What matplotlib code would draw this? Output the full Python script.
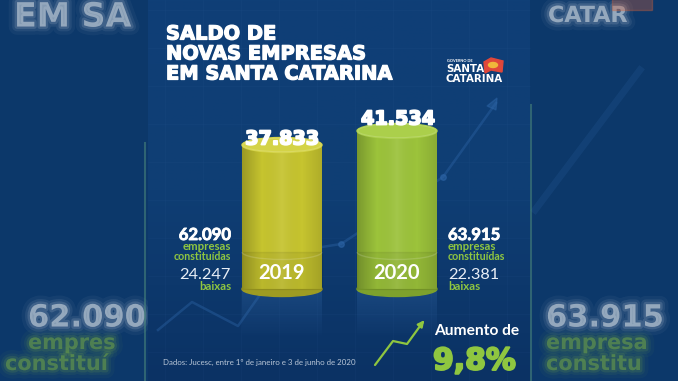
import numpy as np
import matplotlib
matplotlib.use("Agg")
import matplotlib.pyplot as plt
from matplotlib.patches import Ellipse, Rectangle, Arc, Polygon
from matplotlib.colors import LinearSegmentedColormap, to_rgb
import matplotlib.patheffects as pe

# ---------------- data ----------------
years = ["2019", "2020"]
saldo = [37833, 41534]
saldo_labels = ["37.833", "41.534"]
constituidas = ["62.090", "63.915"]
baixas = ["24.247", "22.381"]
aumento = "9,8%"
title_lines = ["SALDO DE", "NOVAS EMPRESAS", "EM SANTA CATARINA"]
fonte = "Dados: Jucesc, entre 1º de janeiro e 3 de junho de 2020"

# ---------------- style ----------------
W, H = 678, 381
BG = "#0d3a6b"
GREEN = "#8fc640"
BODY = ["#c6c42f", "#9cc33b"]
TOP = ["#d4d347", "#abcf4b"]
DARK = ["#9e9c22", "#7ea22c"]
FONT = "Lato"
HEAVY = "DejaVu Sans"

fig = plt.figure(figsize=(W / 100, H / 100), dpi=100)
fig.patch.set_facecolor(BG)

def pix_axes(z):
    a = fig.add_axes([0, 0, 1, 1], zorder=z)
    a.set_xlim(0, W)
    a.set_ylim(H, 0)
    a.axis("off")
    a.patch.set_alpha(0)
    return a

bg = pix_axes(0)
fg = pix_axes(2)

# outer background
bg.add_patch(Rectangle((0, 0), W, H, color="#0c386a", zorder=0))

# blurred outer copies
def blurry(x, y, s, size, color="white", alpha=0.22):
    t = bg.text(x, y, s, fontsize=size, color=color, ha="left", va="center",
                family=HEAVY, weight="bold", alpha=alpha, zorder=1)
    t.set_path_effects([pe.Stroke(linewidth=12, foreground=color, alpha=0.04),
                        pe.Stroke(linewidth=7, foreground=color, alpha=0.07),
                        pe.Stroke(linewidth=3.5, foreground=color, alpha=0.12),
                        pe.Normal()])

blurry(14, 17, "EM SA", 24, alpha=0.3)
blurry(28, 318, constituidas[0], 22, alpha=0.3)
blurry(28, 343, "empres", 15, color=GREEN)
blurry(5, 364, "constituí", 15, color=GREEN)
blurry(546, 318, constituidas[1], 22, alpha=0.3)
blurry(546, 343, "empresa", 15, color=GREEN)
blurry(546, 364, "constitu", 15, color=GREEN)
blurry(548, 16, "CATAR", 16, alpha=0.3)
bg.add_patch(Rectangle((612, -2), 40, 12, color="#d0603a", alpha=0.35, zorder=1))
bg.plot([535, 640], [210, 70], color="#2f65a6", lw=5, alpha=0.2, zorder=1)
# glowing panel edges
bg.plot([145, 145], [143, H], color="#4c8a7c", lw=1.5, alpha=0.55, zorder=1)
bg.plot([531, 531], [105, H], color="#4c8a7c", lw=1.5, alpha=0.55, zorder=1)

# central panel gradient
grad = np.linspace(0, 1, 256).reshape(-1, 1)
pcm = LinearSegmentedColormap.from_list("p", ["#0f3f77", "#0f3e74", "#0b3264"])
bg.imshow(grad, extent=(148, 530, H, 0), cmap=pcm, aspect="auto", zorder=2)
for gx in np.arange(165, 530, 38):
    bg.plot([gx, gx], [0, H], color="#3a6aa8", lw=0.5, alpha=0.1, zorder=2)
for gy in np.arange(10, H, 38):
    bg.plot([148, 530], [gy, gy], color="#3a6aa8", lw=0.5, alpha=0.1, zorder=2)

# background trend line
tx = [158, 192, 238, 290, 341, 443, 496]
ty = [330, 302, 326, 252, 244, 177, 103]
bg.plot(tx, ty, color="#2e66a8", lw=1.8, alpha=0.4, zorder=2)
bg.plot([341, 443], [244, 177], "o", color="#2e66a8", ms=4, alpha=0.55, zorder=2)
bg.add_patch(Polygon([[497, 98], [487, 106], [496, 110]], closed=True,
                     color="#2e66a8", alpha=0.45, zorder=2))

heavy_fx = [pe.Stroke(linewidth=0.9, foreground="white"), pe.Normal()]

# title
for i, line in enumerate(title_lines):
    t = fg.text(166, 34 + i * 20, line, fontsize=14, color="white", family=HEAVY,
                weight="bold", va="center", ha="left", zorder=5)
    t.set_path_effects(heavy_fx)

# logo
fg.text(447, 61, "GOVERNO DE", fontsize=2.8, color="white", family=FONT,
        weight="bold", va="center", zorder=5)
fg.text(446, 69.5, "SANTA", fontsize=7.4, color="white", family=HEAVY,
        weight="bold", va="center", zorder=5)
fg.text(446, 78.5, "CATARINA", fontsize=7.4, color="white", family=HEAVY,
        weight="bold", va="center", zorder=5)
fg.add_patch(Polygon([[484, 62], [491, 58], [503, 61], [502, 72], [491, 70], [485, 73]],
                     closed=True, color="#e0473a", zorder=4))
fg.add_patch(Ellipse((493, 65), 9, 5, color="#f0b73a", zorder=4))

# ---------------- bars (data axes) ----------------
s = 144 / 37833            # pixels per unit
base_px = 289              # baseline pixel (from top)
x0_px, step_px = 282, 115  # first bar centre, spacing
w = 80 / step_px
ax = fig.add_axes([0, 0, 1, 1], zorder=1)
ax.set_xlim(-x0_px / step_px, (W - x0_px) / step_px)
ax.set_ylim(-(H - base_px) / s, base_px / s)
ax.axis("off")
ax.patch.set_alpha(0)

eh = 15 / s
xs = np.arange(len(years))
bars = ax.bar(xs, saldo, width=w, color=BODY, zorder=3)
hgrad = np.linspace(0, 1, 256).reshape(1, -1)
for i, b in enumerate(bars):
    rg = np.linspace(0, 1, 100).reshape(-1, 1)
    rc = np.zeros((100, 1, 4))
    rc[..., :3] = to_rgb("#3a70b0")
    rc[..., 3] = 0.3 * (1 - rg)
    ax.imshow(rc, extent=(i - w / 2, i + w / 2, -50 / s, 0), aspect="auto",
              zorder=1, origin="upper")
    ax.add_patch(Ellipse((i, 0), w, eh, color=DARK[i], zorder=2))
    cm = LinearSegmentedColormap.from_list(
        "c%d" % i, [(0, 0, 0, 0.22), (0, 0, 0, 0.0), (1, 1, 1, 0.08), (0, 0, 0, 0.0), (0, 0, 0, 0.12)])
    im = ax.imshow(hgrad, extent=(i - w / 2, i + w / 2, 0, saldo[i]), cmap=cm,
                   aspect="auto", zorder=3.5)
    im.set_clip_path(b)
    band = (base_px - 252) / s
    ax.add_patch(Rectangle((i - w / 2, 0), w, band, color="black", alpha=0.06, zorder=3.6))
    ax.add_patch(Arc((i, band), w, eh, theta1=180, theta2=360, color="white",
                     alpha=0.15, lw=1, zorder=3.7))
    ax.add_patch(Ellipse((i, saldo[i]), w, eh, color=TOP[i], zorder=4))
    ax.add_patch(Ellipse((i, saldo[i]), w * 0.98, eh * 0.9, fill=False,
                         ec="white", alpha=0.15, lw=0.8, zorder=4))
    ax.text(i, (base_px - 273) / s, years[i], ha="center", va="center",
            fontsize=14.5, color="white", family=FONT, weight="bold", zorder=5)

# value labels
for xp, yp, lab in [(282, 139, saldo_labels[0]), (398, 119, saldo_labels[1])]:
    t = fg.text(xp, yp, lab, fontsize=13.8, color="white", family=HEAVY,
                weight="bold", ha="center", va="center", zorder=6)
    t.set_path_effects([pe.Stroke(linewidth=1.3, foreground="white"), pe.Normal()])

# side texts
for xpos, ha, i in [(231, "right", 0), (448, "left", 1)]:
    fg.text(xpos, 235, constituidas[i], fontsize=12, color="white", family=FONT,
            weight="bold", ha=ha, va="center", zorder=6,
            path_effects=[pe.Stroke(linewidth=0.6, foreground="white"), pe.Normal()])
    fg.text(xpos, 247, "empresas", fontsize=8.2, color=GREEN, family=FONT,
            weight="bold", ha=ha, va="center", zorder=6)
    fg.text(xpos, 257, "constituídas", fontsize=7.7, color=GREEN, family=FONT,
            weight="bold", ha=ha, va="center", zorder=6)
    fg.text(xpos, 275, baixas[i], fontsize=11.8, color="#e8eef6", family=FONT,
            weight="normal", ha=ha, va="center", zorder=6)
    fg.text(xpos, 286, "baixas", fontsize=8.2, color=GREEN, family=FONT,
            weight="bold", ha=ha, va="center", zorder=6)

# source
fg.text(163, 362, fonte, fontsize=5.7, color="#b9c6d8", family=FONT,
        ha="left", va="center", zorder=6)

# growth arrow
fg.plot([375, 393, 407, 423], [365, 341, 344, 322], color=GREEN, lw=1.6,
        solid_capstyle="round", solid_joinstyle="round", zorder=6)
fg.annotate("", xy=(426, 318), xytext=(419, 327),
            arrowprops=dict(arrowstyle="-|>", color=GREEN, lw=1.6, mutation_scale=9), zorder=6)

fg.text(434, 331, "Aumento de", fontsize=11.2, color="white", family=FONT,
        weight="bold", ha="left", va="center", zorder=6)
t = fg.text(433, 361, aumento, fontsize=21.5, color=GREEN, family=HEAVY,
            weight="bold", ha="left", va="center", zorder=6)
t.set_path_effects([pe.Stroke(linewidth=1.5, foreground=GREEN), pe.Normal()])

fig.savefig("out.png", dpi=100, facecolor=fig.get_facecolor())
